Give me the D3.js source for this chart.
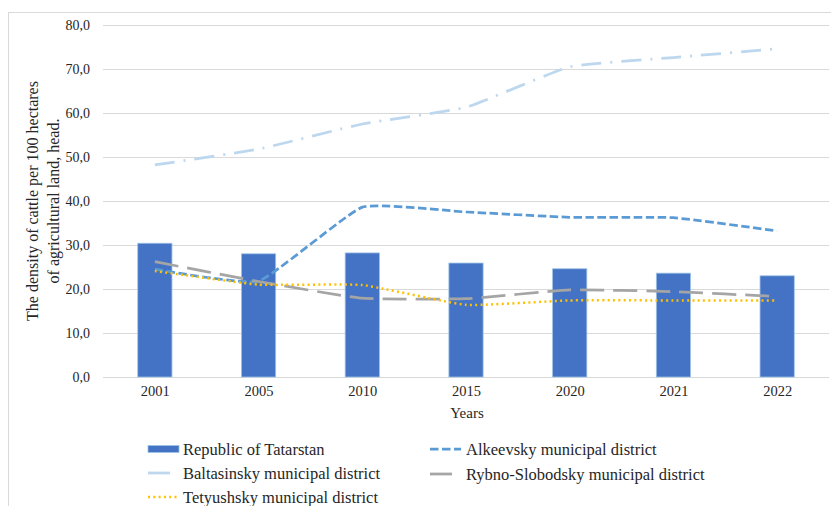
<!DOCTYPE html>
<html><head><meta charset="utf-8">
<script src="https://cdn.jsdelivr.net/npm/d3@7"></script>
<style>body{margin:0;background:#fff}svg{display:block}text{font-family:"Liberation Serif","Times New Roman",serif;fill:#262626}</style>
</head><body><svg id="c" width="831" height="506"></svg>
<script>
const years = ["2001","2005","2010","2015","2020","2021","2022"];
const tatarstan = [30.4, 28.0, 28.2, 25.9, 24.6, 23.6, 23.0];
const alkeevsky = [24.5, 21.8, 38.6, 37.5, 36.3, 36.2, 33.2];
const baltasinsky = [48.2, 51.8, 57.5, 61.3, 70.5, 72.6, 74.6];
const rybno = [26.2, 21.7, 17.9, 17.8, 19.8, 19.4, 18.3];
const tetyushsky = [24.1, 21.0, 20.9, 16.4, 17.4, 17.4, 17.4];
const yTicks = [0,10,20,30,40,50,60,70,80];
const names = ["Republic of Tatarstan","Alkeevsky municipal district","Baltasinsky municipal district","Rybno-Slobodsky municipal district","Tetyushsky municipal district"];

const svg = d3.select("#c");
svg.append("rect").attr("x",8.5).attr("y",12.5).attr("width",840).attr("height",520)
  .attr("fill","none").attr("stroke","#d9d9d9").attr("stroke-width",1);

const L=103, R=829, T=25, B=377;
const x = d3.scalePoint().domain(years).range([L,R]).padding(0.5);
const step = x.step();
const y = d3.scaleLinear().domain([0,80]).range([B,T]);

svg.append("g").selectAll("line").data(yTicks).join("line")
  .attr("x1",L).attr("x2",R).attr("y1",d=>Math.round(y(d))+0.5).attr("y2",d=>Math.round(y(d))+0.5)
  .attr("stroke","#d9d9d9").attr("stroke-width",1);

const yAxis = d3.axisLeft(y).tickValues(yTicks).tickSize(0).tickPadding(0)
  .tickFormat(d=>d3.format(".1f")(d).replace(".",","));
const ga = svg.append("g").attr("transform",`translate(90,0)`).call(yAxis)
  .attr("font-family","Liberation Serif").attr("font-size",14);
ga.select(".domain").remove();
ga.selectAll("text").style("font-size","14px").attr("fill","#262626");

const gx = svg.append("g").attr("transform",`translate(0,${B})`).call(d3.axisBottom(x).tickSize(0).tickPadding(9))
  .attr("font-family","Liberation Serif").attr("font-size",14.5);
gx.select(".domain").remove();
gx.selectAll("text").style("font-size","14.5px").attr("fill","#262626");

const bw = step*0.33;
svg.append("g").selectAll("rect").data(tatarstan).join("rect")
  .attr("x",(d,i)=>x(years[i])-bw/2).attr("width",bw)
  .attr("y",d=>y(d)).attr("height",d=>B-y(d))
  .attr("fill","#4472C4").attr("stroke","#9DC3E6").attr("stroke-width",0.8);

const series = [
  {v:alkeevsky, c:"#5B9BD5", w:2.75, dash:"8.5,3.5"},
  {v:baltasinsky, c:"#BDD7EE", w:2.75, dash:"20,9,2,9"},
  {v:rybno, c:"#A5A5A5", w:2.75, dash:"24,9"},
  {v:tetyushsky, c:"#FFC000", w:2.5, dash:"2,3.3"}
];
const line = d3.line().x((d,i)=>x(years[i])).y(d=>y(d)).curve(d3.curveCardinal.tension(0.6));
series.forEach(s=>{
  svg.append("path").datum(s.v).attr("d",line).attr("fill","none")
    .attr("stroke",s.c).attr("stroke-width",s.w).attr("stroke-dasharray",s.dash);
});

svg.append("text").attr("x",467).attr("y",418).attr("text-anchor","middle").style("font-size","15px").text("Years");
const yt = svg.append("text").attr("transform","translate(38,201) rotate(-90)").attr("text-anchor","middle").style("font-size","16px");
yt.append("tspan").attr("x",0).attr("dy",0).text("The density of cattle per 100 hectares");
yt.append("tspan").attr("x",0).attr("dy",21).text("of agricultural land, head.");

const leg = [
  {n:names[0], type:"bar", x:148, y:449},
  {n:names[1], type:"line", s:series[0], x:430, y:449},
  {n:names[2], type:"line", s:series[1], x:148, y:473, off:true},
  {n:names[3], type:"line", s:series[2], x:430, y:474, off:true},
  {n:names[4], type:"line", s:series[3], x:148, y:497}
];
leg.forEach(l=>{
  const g = svg.append("g");
  if(l.type==="bar"){
    g.append("rect").attr("x",l.x).attr("y",l.y-3.5).attr("width",31).attr("height",7).attr("fill","#4472C4").attr("stroke","#9DC3E6").attr("stroke-width",0.8);
  } else {
    const x1 = l.x, x2 = l.off ? l.x+22 : l.x+31;
    g.append("line").attr("x1",x1).attr("x2",x2).attr("y1",l.y).attr("y2",l.y)
      .attr("stroke",l.s.c).attr("stroke-width",l.s.w).attr("stroke-dasharray",l.off?null:l.s.dash);
  }
  g.append("text").attr("x",l.x+(l.x<300?35:36)).attr("y",l.y+5.5).style("font-size","16.5px").text(l.n);
});
</script></body></html>
